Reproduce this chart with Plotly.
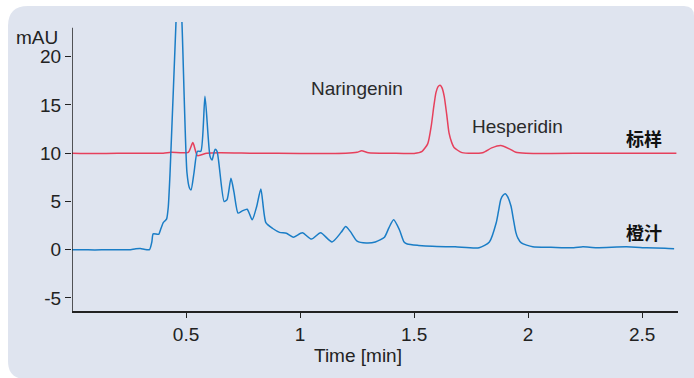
import plotly.graph_objects as go

# Retention time (min) and absorbance (mAU) of the orange juice run
juice_time = [0, 0.05, 0.10, 0.15, 0.20, 0.25, 0.28, 0.30, 0.32, 0.34, 0.35, 0.356, 0.38, 0.39, 0.40,
              0.408, 0.415, 0.422, 0.43, 0.456, 0.468, 0.482, 0.504, 0.515, 0.522, 0.535, 0.55, 0.565,
              0.583, 0.605, 0.614, 0.627, 0.636, 0.667, 0.68, 0.697, 0.71, 0.728, 0.745, 0.768, 0.79,
              0.81, 0.828, 0.85, 0.88, 0.91, 0.94, 0.97, 1.01, 1.05, 1.09, 1.14, 1.18, 1.20, 1.22, 1.25,
              1.29, 1.33, 1.37, 1.39, 1.41, 1.435, 1.456, 1.47, 1.52, 1.58, 1.68, 1.785, 1.83, 1.86,
              1.87, 1.88, 1.89, 1.90, 1.91, 1.925, 1.935, 1.946, 1.955, 1.97, 2.02, 2.10, 2.20, 2.24,
              2.30, 2.43, 2.52, 2.60, 2.64]
juice_mau = [0, 0.0, -0.02, 0.0, 0.0, 0.0, 0.1, 0.12, 0.02, 0.02, 0.8, 1.65, 1.6, 2.2, 2.8,
             3.0, 3.2, 4.4, 8.0, 23.6, 30, 23.6, 8.0, 6.4, 6.2, 8.0, 10.2, 10.2,
             15.9, 9.7, 9.3, 10.4, 10.2, 5.0, 5.2, 7.4, 6.0, 3.8, 4.0, 4.2, 3.1,
             4.5, 6.3, 2.8, 2.2, 1.8, 1.7, 1.3, 1.75, 1.1, 1.75, 0.8, 1.8, 2.4, 1.9, 0.9,
             0.7, 0.8, 1.3, 2.3, 3.1, 2.1, 0.8, 0.6, 0.45, 0.35, 0.3, 0.2, 0.8, 2.8,
             4.0, 5.2, 5.65, 5.8, 5.5, 4.5, 3.2, 1.8, 1.2, 0.7, 0.3, 0.25, 0.2, 0.3,
             0.2, 0.3, 0.2, 0.15, 0.1]

# Standard mixture run (offset by 10 mAU)
std_time = [0, 0.1, 0.2, 0.3, 0.4, 0.434, 0.51, 0.53, 0.55, 0.59, 0.65, 0.8, 1.0, 1.2, 1.25, 1.27,
            1.30, 1.4, 1.5, 1.535, 1.56, 1.575, 1.586, 1.596, 1.605, 1.614, 1.622, 1.632, 1.643, 1.653,
            1.665, 1.675, 1.71, 1.80, 1.84, 1.88, 1.918, 1.946, 1.99, 2.1, 2.3, 2.5, 2.65]
std_mau = [10, 9.97, 10.0, 10.0, 10.0, 10.1, 10.1, 11.1, 9.75, 10.0, 10.05, 10.0, 9.98, 10.0, 10.1, 10.25,
           10.05, 10.0, 9.98, 10.2, 11.0, 12.8, 14.8, 16.3, 16.9, 17.05, 16.8, 15.9, 14.0, 12.1,
           11.1, 10.6, 10.06, 10.05, 10.55, 10.8, 10.45, 10.1, 10.0, 9.98, 10.0, 10.0, 10.0]

x_ticks = [0.5, 1, 1.5, 2, 2.5]
x_tick_text = ["0.5", "1", "1.5", "2", "2.5"]
y_ticks = [-5, 0, 5, 10, 15, 20]
y_tick_text = ["-5", "0", "5", "10", "15", "20"]

peak_names = ["Naringenin", "Hesperidin"]
peak_label_pos = [(1.25, 16.7), (1.952, 12.76)]
trace_names = ["标样", "橙汁"]
trace_label_pos = [(2.509, 11.6), (2.509, 1.87)]

RED = "#e6405c"
BLUE = "#1a7dc6"
INK = "#222222"
PANEL = "#dfe4ef"

W, H = 694, 378
ML, MR, MT, MB = 72, 16, 22, 67
PW, PH = W - ML - MR, H - MT - MB

def px(x):
    return (x - ML) / PW

def py(y):
    return (H - MB - y) / PH

# rounded background panel behind the plot
L, T, R, B = 8, 6, 694, 379
rtl, rtr, rbl = 20, 10, 18
panel_path = (
    f"M {px(L + rtl)},{py(T)} L {px(R - rtr)},{py(T)} Q {px(R)},{py(T)} {px(R)},{py(T + rtr)} "
    f"L {px(R)},{py(B)} L {px(L + rbl)},{py(B)} Q {px(L)},{py(B)} {px(L)},{py(B - rbl)} "
    f"L {px(L)},{py(T + rtl)} Q {px(L)},{py(T)} {px(L + rtl)},{py(T)} Z"
)

fig = go.Figure()
fig.add_trace(go.Scatter(x=std_time, y=std_mau, mode="lines",
                         line=dict(color=RED, width=1.5, shape="spline", smoothing=0.6),
                         name="标样", hoverinfo="skip"))
fig.add_trace(go.Scatter(x=juice_time, y=juice_mau, mode="lines",
                         line=dict(color=BLUE, width=1.5, shape="spline", smoothing=0.6),
                         name="橙汁", hoverinfo="skip"))

tick_font = dict(family="Liberation Sans, Arial", size=19, color=INK)

fig.update_layout(
    width=W, height=H,
    margin=dict(l=ML, r=MR, t=MT, b=MB),
    paper_bgcolor="white",
    plot_bgcolor="rgba(0,0,0,0)",
    showlegend=False,
    xaxis=dict(range=[0, 2.657], tickvals=x_ticks, ticktext=x_tick_text, showgrid=False,
               zeroline=False, showline=True, linecolor=INK, linewidth=1.5,
               ticks="outside", ticklen=5, tickwidth=1.2, tickcolor=INK, tickfont=tick_font),
    yaxis=dict(range=[-6.35, 23.6], tickvals=y_ticks, ticktext=y_tick_text, showgrid=False,
               zeroline=False, showline=False,
               ticks="outside", ticklen=6, tickwidth=1.2, tickcolor=INK, tickfont=tick_font),
    shapes=[
        dict(type="path", path=panel_path, xref="paper", yref="paper",
             fillcolor=PANEL, line=dict(width=0), layer="below"),
        dict(type="line", xref="x", yref="y", x0=0, x1=0, y0=-6.35, y1=23.0,
             line=dict(color=INK, width=1.5)),
    ],
)

label_font = dict(family="Liberation Sans, Arial", size=19, color="#2a2a2a")
for name, (tx, ty) in zip(peak_names, peak_label_pos):
    fig.add_annotation(x=tx, y=ty, text=name, showarrow=False, font=label_font,
                       xanchor="center", yanchor="middle")

cjk_font = dict(family="Noto Sans CJK SC", size=18, color="#111111")
for name, (tx, ty) in zip(trace_names, trace_label_pos):
    fig.add_annotation(x=tx, y=ty, text=f"<b>{name}</b>", showarrow=False, font=cjk_font,
                       xanchor="center", yanchor="middle")

fig.add_annotation(x=px(60), y=py(38), xref="paper", yref="paper", text="mAU", showarrow=False,
                   font=tick_font, xanchor="right", yanchor="middle")
fig.add_annotation(x=px(358), y=py(355), xref="paper", yref="paper", text="Time [min]",
                   showarrow=False, font=tick_font, xanchor="center", yanchor="middle")

fig.write_html("out.html")
